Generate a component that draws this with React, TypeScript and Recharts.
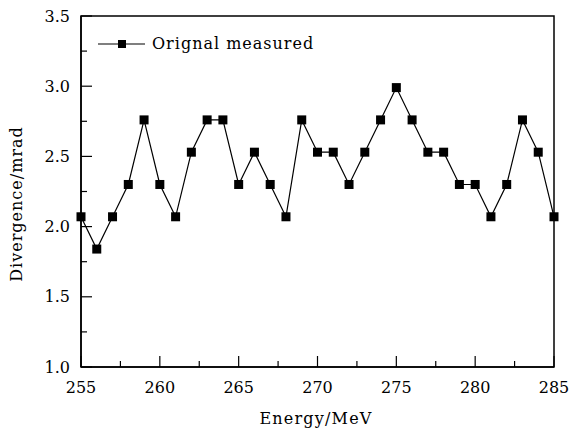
import { Line, LineChart, XAxis, YAxis } from "recharts";

const energies = [
  255, 256, 257, 258, 259, 260, 261, 262, 263, 264, 265, 266, 267, 268, 269, 270,
  271, 272, 273, 274, 275, 276, 277, 278, 279, 280, 281, 282, 283, 284, 285,
];
const divergence = [
  2.07, 1.84, 2.07, 2.3, 2.76, 2.3, 2.07, 2.53, 2.76, 2.76, 2.3, 2.53, 2.3, 2.07, 2.76, 2.53,
  2.53, 2.3, 2.53, 2.76, 2.99, 2.76, 2.53, 2.53, 2.3, 2.3, 2.07, 2.3, 2.76, 2.53, 2.07,
];
const xTicks = [255, 257.5, 260, 262.5, 265, 267.5, 270, 272.5, 275, 277.5, 280, 282.5, 285];
const yTicks = [1.0, 1.25, 1.5, 1.75, 2.0, 2.25, 2.5, 2.75, 3.0, 3.25, 3.5];

const data = energies.map((e, i) => ({ energy: e, value: divergence[i] }));

const W = 570;
const H = 431;
const PLOT_LEFT = 81;
const PLOT_TOP = 16;
const PLOT_RIGHT = 554;
const PLOT_BOTTOM = 367;
const FONT = "'DejaVu Serif', serif";

function XTick({ x, payload }: any) {
  const v = payload.value as number;
  const major = v % 5 === 0;
  return (
    <g>
      <line x1={x} x2={x} y1={PLOT_BOTTOM} y2={PLOT_BOTTOM - (major ? 11 : 6)} stroke="#000" strokeWidth={1.2} />
      {major && (
        <text x={x} y={PLOT_BOTTOM + 26} textAnchor="middle" fontSize={16} fontFamily={FONT} fill="#000">
          {v}
        </text>
      )}
    </g>
  );
}

function YTick({ y, payload }: any) {
  const v = payload.value as number;
  const major = Math.abs((v * 2) % 1) < 1e-6;
  return (
    <g>
      <line x1={PLOT_LEFT} x2={PLOT_LEFT + (major ? 11 : 6)} y1={y} y2={y} stroke="#000" strokeWidth={1.2} />
      {major && (
        <text x={PLOT_LEFT - 11} y={y} dy="0.35em" textAnchor="end" fontSize={16} fontFamily={FONT} fill="#000">
          {v.toFixed(1)}
        </text>
      )}
    </g>
  );
}

function SquareDot({ cx, cy }: any) {
  if (cx == null || cy == null) return null;
  return <rect x={cx - 4.5} y={cy - 4.5} width={9} height={9} fill="#000" />;
}

function Overlay() {
  return (
    <svg width={W} height={H} style={{ position: "absolute", left: 0, top: 0, pointerEvents: "none" }}>
      <rect
        x={PLOT_LEFT}
        y={PLOT_TOP}
        width={PLOT_RIGHT - PLOT_LEFT}
        height={PLOT_BOTTOM - PLOT_TOP}
        fill="none"
        stroke="#000"
        strokeWidth={1.5}
      />
      <line x1={98} x2={145} y1={44} y2={44} stroke="#000" strokeWidth={1.2} />
      <rect x={118} y={40} width={8} height={8} fill="#000" />
      <text x={152} y={49} fontSize={16} fontFamily={FONT} letterSpacing={1} fill="#000">
        Orignal measured
      </text>
      <text x={316} y={424} textAnchor="middle" fontSize={16} fontFamily={FONT} letterSpacing={1.2} fill="#000">
        Energy/MeV
      </text>
      <text
        x={0}
        y={0}
        transform="translate(22 204) rotate(-90)"
        textAnchor="middle"
        fontSize={16}
        fontFamily={FONT}
        letterSpacing={1}
        fill="#000"
      >
        Divergence/mrad
      </text>
    </svg>
  );
}

export default function App() {
  return (
    <div style={{ position: "absolute", left: 0, top: 0, width: W, height: H, background: "#fff" }}>
      <LineChart
        width={W}
        height={H}
        data={data}
        margin={{ top: PLOT_TOP, right: W - PLOT_RIGHT, left: PLOT_LEFT - 60, bottom: H - PLOT_BOTTOM - 40 }}
      >
        <XAxis
          dataKey="energy"
          type="number"
          domain={[255, 285]}
          ticks={xTicks}
          interval={0}
          height={40}
          tick={<XTick />}
          tickLine={false}
          axisLine={{ stroke: "#000", strokeWidth: 1.5 }}
        />
        <YAxis
          type="number"
          domain={[1, 3.5]}
          ticks={yTicks}
          interval={0}
          width={60}
          tick={<YTick />}
          tickLine={false}
          axisLine={{ stroke: "#000", strokeWidth: 1.5 }}
        />
        <Line
          type="linear"
          dataKey="value"
          stroke="#000"
          strokeWidth={1.2}
          dot={<SquareDot />}
          activeDot={false}
          isAnimationActive={false}
        />
      </LineChart>
      <Overlay />
    </div>
  );
}
